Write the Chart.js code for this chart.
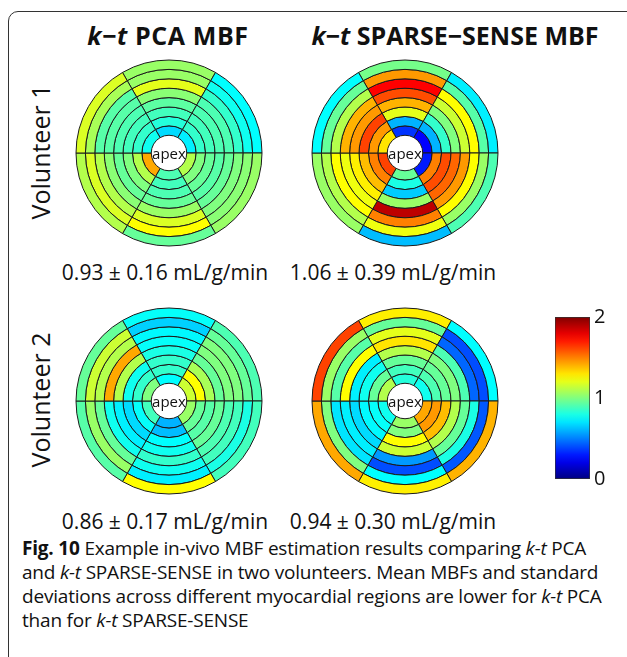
<!DOCTYPE html>
<html>
<head>
<meta charset="utf-8">
<script src="https://cdn.jsdelivr.net/npm/chart.js@4"></script>
<style>
  body { margin: 0; background: #fff; width: 627px; height: 657px; overflow: hidden; position: relative; font-family: "Open Sans", sans-serif; color: #111; }
  .frame { position: absolute; left: 8px; top: 11px; width: 700px; height: 700px; border: 1.5px solid #333; border-radius: 10px; }
  .abs { position: absolute; white-space: nowrap; }
  .title { font-weight: bold; font-size: 25px; text-align: center; transform: translateX(-50%); }
  .vol { font-size: 25px; transform: translate(-50%, -50%) rotate(-90deg); }
  .val { font-size: 21px; text-align: center; transform: translateX(-50%); }
  .apex { font-size: 15px; transform: translate(-50%, -50%); }
  .cap { font-size: 19px; line-height: 24px; letter-spacing: -0.2px; }
  canvas { position: absolute; }
</style>
</head>
<body>
<div class="frame"></div>

<div class="abs title" style="left:168px; top:18px; letter-spacing:0.6px;"><i>k</i>−<i>t</i> PCA MBF</div>
<div class="abs title" style="left:455px; top:18px;"><i>k</i>−<i>t</i> SPARSE−SENSE MBF</div>

<div class="abs vol" style="left:40px; top:152px;">Volunteer 1</div>
<div class="abs vol" style="left:40px; top:400px;">Volunteer 2</div>

<canvas id="pca1" width="200" height="200" style="left:69px; top:53px;"></canvas>
<canvas id="ss1" width="200" height="200" style="left:305px; top:53px;"></canvas>
<canvas id="pca2" width="200" height="200" style="left:69px; top:301px;"></canvas>
<canvas id="ss2" width="200" height="200" style="left:305px; top:301px;"></canvas>
<canvas id="cbar" width="65" height="194" style="left:555px; top:301px;"></canvas>

<div class="abs apex" style="left:169px; top:153px;">apex</div>
<div class="abs apex" style="left:405px; top:153px;">apex</div>
<div class="abs apex" style="left:169px; top:401px;">apex</div>
<div class="abs apex" style="left:405px; top:401px;">apex</div>

<div class="abs val" style="left:165px; top:258px;">0.93 ± 0.16 mL/g/min</div>
<div class="abs val" style="left:393px; top:258px;">1.06 ± 0.39 mL/g/min</div>
<div class="abs val" style="left:165px; top:507px;">0.86 ± 0.17 mL/g/min</div>
<div class="abs val" style="left:393px; top:507px;">0.94 ± 0.30 mL/g/min</div>

<div class="abs cap" style="left:22px; top:536px;">
<b>Fig. 10</b> Example in-vivo MBF estimation results comparing <i>k-t</i> PCA<br>
and <i>k-t</i> SPARSE-SENSE in two volunteers. Mean MBFs and standard<br>
deviations across different myocardial regions are lower for <i>k-t</i> PCA<br>
than for <i>k-t</i> SPARSE-SENSE
</div>

<script>
// six myocardial sectors, clockwise from the top
const sectors = ['S1', 'S2', 'S3', 'S4', 'S5', 'S6'];

// MBF (mL/g/min) per ring, inner (near apex) to outer; each row follows `sectors`
const pca1 = [
    [0.68, 0.72, 1.10, 0.90, 1.42, 0.78],
    [0.82, 0.85, 1.00, 0.88, 1.10, 0.85],
    [0.88, 0.88, 0.95, 0.90, 1.00, 0.88],
    [0.93, 0.90, 0.92, 0.95, 0.95, 0.90],
    [1.02, 0.90, 0.95, 1.05, 1.02, 0.92],
    [1.20, 0.85, 1.00, 1.18, 1.10, 0.92],
    [1.05, 0.78, 1.02, 1.25, 1.18, 1.08],
    [1.05, 0.75, 1.05, 0.95, 1.10, 1.18]
];
const ss1 = [
    [0.35, 0.25, 0.30, 0.95, 1.62, 1.30],
    [0.60, 0.60, 1.50, 0.80, 1.50, 1.45],
    [1.20, 0.85, 1.60, 0.65, 1.38, 1.62],
    [1.40, 1.00, 1.55, 1.05, 1.28, 1.45],
    [1.60, 1.15, 1.45, 1.88, 1.22, 1.40],
    [1.75, 1.25, 1.25, 1.50, 1.25, 1.10],
    [1.45, 0.92, 1.05, 1.22, 1.10, 0.95],
    [0.98, 0.72, 0.90, 0.62, 1.05, 0.75]
];
const pca2 = [
    [0.75, 1.15, 1.05, 0.60, 0.88, 1.00],
    [0.85, 1.25, 0.95, 0.62, 0.76, 0.85],
    [0.85, 1.08, 0.92, 0.75, 0.68, 0.78],
    [0.80, 0.95, 0.95, 0.78, 0.72, 1.10],
    [0.76, 1.00, 0.90, 0.85, 0.78, 1.42],
    [0.74, 1.00, 0.88, 0.78, 0.95, 1.10],
    [0.66, 0.95, 0.80, 0.72, 1.05, 1.15],
    [0.76, 0.90, 0.88, 1.25, 0.92, 0.95]
];
const ss2 = [
    [0.82, 0.78, 1.42, 1.05, 0.78, 1.10],
    [0.88, 0.90, 1.45, 1.00, 0.76, 0.95],
    [0.95, 0.95, 1.38, 1.25, 0.74, 0.78],
    [1.10, 1.00, 1.10, 1.15, 0.68, 0.72],
    [1.30, 0.90, 0.95, 0.55, 0.72, 1.25],
    [1.20, 0.45, 0.80, 0.40, 0.70, 0.92],
    [0.95, 0.40, 0.42, 0.75, 1.00, 1.05],
    [1.28, 0.75, 1.40, 1.28, 1.42, 1.62]
];

// colour scale
const cMin = 0;
const cMax = 2;
const cbarTicks = [0, 1, 2];

// MATLAB style jet colormap
function jet(v) {
    const t = Math.min(Math.max((v - cMin) / (cMax - cMin), 0), 1);
    const f = x => Math.round(255 * Math.min(Math.max(1.5 - Math.abs(x), 0), 1));
    return `rgb(${f(4 * t - 3)},${f(4 * t - 2)},${f(4 * t - 1)})`;
}

// Bullseye plot: one doughnut ring per dataset, outermost dataset first
function createBullseye(id, rings) {
    const datasets = rings.slice().reverse().map((ring, i) => ({
        label: 'ring ' + (rings.length - i),
        data: sectors.map(() => 1),
        mbf: ring,
        backgroundColor: ring.map(jet),
        borderColor: '#1a1a1a',
        borderWidth: 1,
        hoverOffset: 0
    }));
    return new Chart(document.getElementById(id), {
        type: 'doughnut',
        data: { labels: sectors, datasets: datasets },
        options: {
            responsive: false,
            animation: false,
            events: [],
            rotation: -30,
            radius: 93,
            cutout: 19,
            layout: { padding: 0 },
            plugins: { legend: { display: false }, tooltip: { enabled: false } }
        }
    });
}

// Colour bar drawn as one floating bar with a jet gradient
function createColorbar(id) {
    return new Chart(document.getElementById(id), {
        type: 'bar',
        data: {
            labels: [''],
            datasets: [{
                data: [[cMin, cMax]],
                backgroundColor: (ctx) => {
                    const area = ctx.chart.chartArea;
                    if (!area) return '#888';
                    const g = ctx.chart.ctx.createLinearGradient(0, area.bottom, 0, area.top);
                    for (let i = 0; i <= 20; i++) {
                        g.addColorStop(i / 20, jet(cMin + (cMax - cMin) * i / 20));
                    }
                    return g;
                },
                borderColor: '#333',
                borderWidth: 1,
                borderSkipped: false,
                barPercentage: 1,
                categoryPercentage: 1
            }]
        },
        options: {
            responsive: false,
            animation: false,
            events: [],
            layout: { padding: { top: 12, bottom: 12, left: 0, right: 0 } },
            plugins: { legend: { display: false }, tooltip: { enabled: false } },
            scales: {
                x: { display: false },
                y: {
                    position: 'right',
                    min: cMin,
                    max: cMax,
                    afterBuildTicks: (s) => { s.ticks = cbarTicks.map(v => ({ value: v })); },
                    afterFit: (s) => { s.width = 30; },
                    grid: { display: false, drawTicks: false },
                    border: { display: false },
                    ticks: {
                        padding: 4,
                        color: '#111',
                        font: { family: 'Open Sans', size: 20 }
                    }
                }
            }
        }
    });
}

createBullseye('pca1', pca1);
createBullseye('ss1', ss1);
createBullseye('pca2', pca2);
createBullseye('ss2', ss2);
createColorbar('cbar');
</script>
</body>
</html>
